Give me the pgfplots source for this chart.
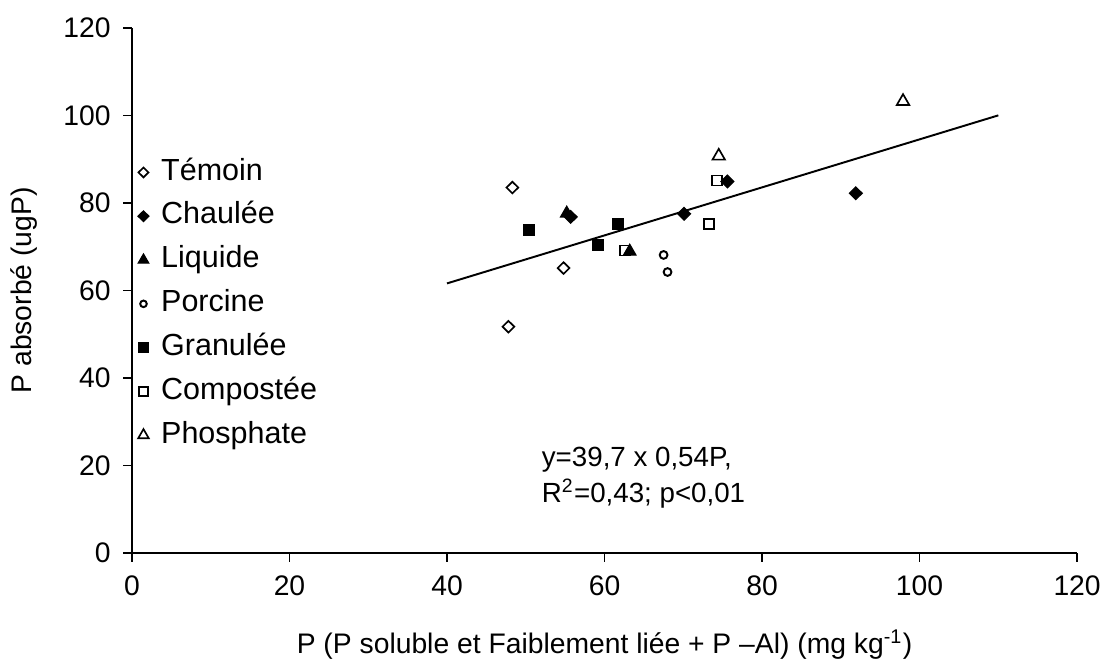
\documentclass[border=0pt]{standalone}
\usepackage{pgfplots}
\pgfplotsset{compat=1.18}
\usepackage{fontspec}
\setmainfont{Liberation Sans}

\begin{document}
\begin{tikzpicture}
\begin{axis}[
  scale only axis,
  width=340.9pt,
  height=189.4pt,
  axis lines=left,
  axis line style={-, line width=0.55pt},
  tick style={line width=0.55pt, black},
  tick align=outside,
  major tick length=3.2pt,
  xmin=0, xmax=120,
  ymin=0, ymax=120,
  xtick={0,20,...,120},
  ytick={0,20,...,120},
  /pgf/number format/assume math mode=true,
  tick label style={font=\fontsize{10.2}{12}\selectfont},
  xticklabel style={yshift=-1.5pt},
  yticklabel style={xshift=-1pt},
  xlabel={P (P soluble et Faiblement liée + P –Al) (mg kg\textsuperscript{-1})},
  ylabel={P absorbé (ugP)},
  label style={font=\fontsize{10.2}{12}\selectfont},
  xlabel style={at={(rel axis cs:0.5,0)}, anchor=center, yshift=-33.2pt},
  ylabel style={at={(rel axis cs:0,0.5)}, anchor=center, yshift=38.8pt},
  clip=false,
  legend cell align=left,
  legend style={
    at={(rel axis cs:-0.003,0.778)}, anchor=north west,
    draw=none, fill=none,
    font=\fontsize{11}{13}\selectfont,
    row sep=0pt,
    nodes={inner xsep=1pt, text height=7.8pt, text depth=2.2pt, inner ysep=2.9pt},
    /tikz/every odd column/.append style={column sep=3.4pt},
  },
  legend image code/.code={%
    \draw[#1, /tikz/every mark/.append style={scale=0.85}] plot coordinates {(0.1cm,0cm)};},
]

% Témoin
\addplot[only marks, mark=diamond, mark size=2.1pt, mark options={xscale=1.35, fill=white, line width=0.6pt}]
  coordinates {(48.3,83.5) (54.8,65.1) (47.8,51.7)};
\addlegendentry{Témoin}

% Chaulée
\addplot[only marks, mark=diamond*, mark size=2.3pt, mark options={xscale=1.35, fill=black}]
  coordinates {(75.6,84.9) (70.1,77.5) (91.9,82.2) (55.7,76.8)};
\addlegendentry{Chaulée}

% Liquide
\addplot[only marks, mark=triangle*, mark size=2.6pt, mark options={fill=black}]
  coordinates {(55.2,77.6) (63.2,68.9)};
\addlegendentry{Liquide}

% Porcine
\addplot[only marks, mark=o, mark size=1.4pt, mark options={fill=white, line width=0.7pt}]
  coordinates {(67.5,68.1) (68.0,64.2)};
\addlegendentry{Porcine}

% Granulée
\addplot[only marks, mark=square*, mark size=2.0pt, mark options={fill=black}]
  coordinates {(50.4,73.8) (59.2,70.4) (61.7,75.1)};
\addlegendentry{Granulée}

% Compostée
\addplot[only marks, mark=square, mark size=1.8pt, mark options={fill=white, line width=0.6pt}]
  coordinates {(62.6,69.1) (74.3,85.1) (73.3,75.1)};
\addlegendentry{Compostée}

% Phosphate
\addplot[only marks, mark=triangle, mark size=2.6pt, mark options={fill=white, line width=0.6pt}]
  coordinates {(74.5,90.7) (97.9,103.2)};
\addlegendentry{Phosphate}

% regression line
\addplot[black, line width=0.7pt, no marks, forget plot]
  coordinates {(40,61.6) (110,100.0)};

\node[anchor=west, align=left, font=\fontsize{10}{13.3}\selectfont]
  at (axis cs:50.8,17.2) {y=39,7 x 0,54P,\\R\textsuperscript{2}=0,43; p<0,01};

\end{axis}
\pgfresetboundingbox
\path ([xshift=-47.6pt,yshift=-42.56pt]current axis.south west) rectangle ++(400pt,242.0pt);
\end{tikzpicture}
\end{document}
